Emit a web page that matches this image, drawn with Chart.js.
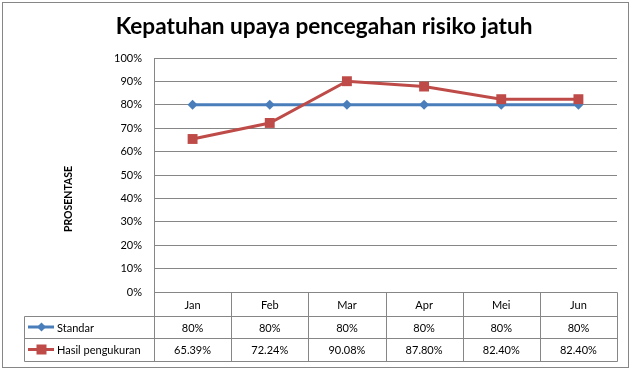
<!DOCTYPE html>
<html><head><meta charset="utf-8">
<script src="https://cdn.jsdelivr.net/npm/chart.js@4"></script>
<style>html,body{margin:0;padding:0;background:#fff;}#wrap{width:634px;height:371px;}</style>
</head><body><div id="wrap"><canvas id="c" width="634" height="371"></canvas></div>
<script>
const titleText = 'Kepatuhan upaya pencegahan risiko jatuh';
const yAxisTitle = 'PROSENTASE';
const categories = ['Jan','Feb','Mar','Apr','Mei','Jun'];
const standarLabel = 'Standar';
const standarValues = [80,80,80,80,80,80];
const standarText = ['80%','80%','80%','80%','80%','80%'];
const hasilLabel = 'Hasil pengukuran';
const hasilValues = [65.39,72.24,90.08,87.80,82.40,82.40];
const hasilText = ['65.39%','72.24%','90.08%','87.80%','82.40%','82.40%'];
const yTicks = [0,10,20,30,40,50,60,70,80,90,100];

const BLUE = '#4A7EBB', RED = '#BE4B48', GRID = '#868686';
const FONT = 'Lato, "Open Sans", sans-serif';

const tablePlugin = {
  id: 'tablePlugin',
  beforeDraw(chart) {
    const ctx = chart.ctx;
    ctx.save();
    ctx.fillStyle = '#fff';
    ctx.fillRect(0,0,chart.width,chart.height);
    ctx.restore();
  },
  afterDraw(chart) {
    const ctx = chart.ctx;
    const x = chart.scales.x, ca = chart.chartArea;
    const n = categories.length;
    const step = (ca.right - ca.left) / n;
    const top = ca.bottom, r1 = 316, r2 = 338, r3 = 361, tl = 24;
    ctx.save();
    // outer border
    ctx.strokeStyle = GRID; ctx.lineWidth = 1;
    ctx.strokeRect(2.5, 2.5, 626, 365);
    // title
    ctx.fillStyle = '#000';
    ctx.font = 'bold 22.6px ' + FONT;
    ctx.textAlign = 'center'; ctx.textBaseline = 'middle';
    ctx.fillText(titleText, 324, 27);
    // y axis title
    ctx.save();
    ctx.translate(69, 199);
    ctx.rotate(-Math.PI/2);
    ctx.font = 'bold 10.5px ' + FONT;
    ctx.fillText(yAxisTitle, 0, 0);
    ctx.restore();
    // table lines
    ctx.strokeStyle = GRID; ctx.lineWidth = 1;
    ctx.beginPath();
    const L = Math.round(ca.left) + 0.5, R = Math.round(ca.right) + 0.5;
    ctx.moveTo(L, Math.round(top)+0.5); ctx.lineTo(R, Math.round(top)+0.5);
    [r1, r2, r3].forEach(y => { ctx.moveTo(tl+0.5, y+0.5); ctx.lineTo(R, y+0.5); });
    ctx.moveTo(tl+0.5, r1+0.5); ctx.lineTo(tl+0.5, r3+0.5);
    for (let i = 0; i <= n; i++) {
      const xx = Math.round(ca.left + i*step) + 0.5;
      ctx.moveTo(xx, Math.round(top)+0.5); ctx.lineTo(xx, r3+0.5);
    }
    ctx.stroke();
    // texts
    ctx.fillStyle = '#000';
    ctx.font = '11px ' + FONT;
    ctx.textAlign = 'center';
    for (let i = 0; i < n; i++) {
      const cx = x.getPixelForValue(i);
      ctx.fillText(categories[i], cx, (top + r1)/2 + 1);
      ctx.fillText(standarText[i], cx, (r1 + r2)/2 + 1);
      ctx.fillText(hasilText[i], cx, (r2 + r3)/2 + 1);
    }
    // legend keys
    const rows = [[standarLabel, BLUE, 'diamond', (r1+r2)/2], [hasilLabel, RED, 'square', (r2+r3)/2]];
    rows.forEach(([lab, col, shape, cy]) => {
      ctx.strokeStyle = col; ctx.lineWidth = 3;
      ctx.beginPath(); ctx.moveTo(28, cy); ctx.lineTo(54, cy); ctx.stroke();
      ctx.fillStyle = col;
      ctx.beginPath();
      if (shape === 'diamond') {
        ctx.moveTo(41.5, cy-4.5); ctx.lineTo(46, cy); ctx.lineTo(41.5, cy+4.5); ctx.lineTo(37, cy); ctx.closePath();
      } else {
        ctx.rect(36.5, cy-5, 10, 10);
      }
      ctx.fill();
      ctx.fillStyle = '#000';
      ctx.textAlign = 'left';
      ctx.fillText(lab, 57, cy + 1);
    });
    ctx.restore();
  }
};

new Chart(document.getElementById('c'), {
  type: 'line',
  data: {
    labels: categories,
    datasets: [
      { label: hasilLabel, data: hasilValues, borderColor: RED, backgroundColor: RED,
        borderWidth: 3, pointStyle: 'rect', pointRadius: 7, pointBorderWidth: 0,
        pointBackgroundColor: RED, tension: 0, order: 0 },
      { label: standarLabel, data: standarValues, borderColor: BLUE, backgroundColor: BLUE,
        borderWidth: 3, pointStyle: 'rectRot', pointRadius: 5, pointBorderWidth: 0,
        pointBackgroundColor: BLUE, tension: 0, order: 1 }
    ]
  },
  options: {
    responsive: false,
    animation: false,
    devicePixelRatio: 1,
    layout: { padding: { left: 0, top: 58, right: 17, bottom: 79 } },
    plugins: { legend: { display: false }, title: { display: false }, tooltip: { enabled: false } },
    scales: {
      x: { type: 'category', offset: true, display: false },
      y: {
        min: 0, max: 100,
        afterFit(s) { s.width = 154; },
        afterBuildTicks(s) { s.ticks = yTicks.map(v => ({ value: v })); },
        ticks: { padding: 12, color: '#000', font: { family: FONT, size: 11 },
                 callback: v => v + '%' },
        grid: { color: GRID, drawTicks: false, lineWidth: 1 },
        border: { color: GRID, width: 1 }
      }
    }
  },
  plugins: [tablePlugin]
});
</script>
</body></html>
